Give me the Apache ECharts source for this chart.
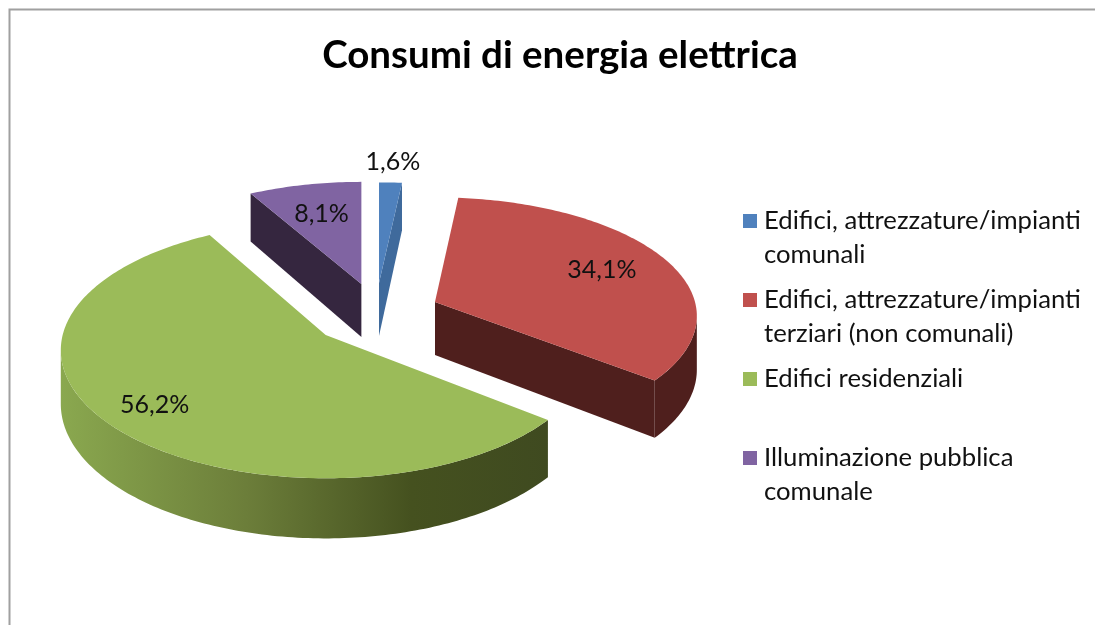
<!DOCTYPE html>
<html>
<head>
<meta charset="utf-8">
<title>Consumi di energia elettrica</title>
<style>
html, body { margin: 0; padding: 0; background: #fff; }
#chart { width: 1095px; height: 625px; }
</style>
<script src="https://cdn.jsdelivr.net/npm/echarts@6/dist/echarts.min.js"></script>
</head>
<body>
<div id="chart"></div>
<script>
// dati
var titleText = "Consumi di energia elettrica";
var names = [
    "Edifici, attrezzature/impianti comunali",
    "Edifici, attrezzature/impianti terziari (non comunali)",
    "Edifici residenziali",
    "Illuminazione pubblica comunale"
];
var legendLines = [
    ["Edifici, attrezzature/impianti", "comunali"],
    ["Edifici, attrezzature/impianti", "terziari (non comunali)"],
    ["Edifici residenziali", " "],
    ["Illuminazione pubblica", "comunale"]
];
var values = [1.6, 34.1, 56.2, 8.1];

// colori
var topColors = ["#4f81bd", "#c0504d", "#9bbb59", "#8064a2"];
var sideColors = ["#3f6a9c", "#4f1f1d", null, "#35263f"];

// torta 3d: ellisse in prospettiva, ogni fetta esplosa lungo la bisettrice
var pieX = 376, pieY = 312;
var persp = 0.119, depth = 53;
var radius = [256, 260, 263, 251];
var tilt = [0.44, 0.45, 0.48, 0.455];
var explodeX = [60, 64, 66, 58];
var explodeY = [29, 26, 35.5, 29];
var labelFrac = [1.23, 0.72, 0.8, 0.68];
var font = "Lato, 'Noto Sans', sans-serif";

var total = values.reduce(function (a, b) { return a + b; }, 0);
var starts = [];
var acc = 0;
for (var i = 0; i < values.length; i++) {
    starts.push(acc / total * Math.PI * 2);
    acc += values[i];
}

function project(idx, apex, ang, frac) {
    var s = 1 / (1 + persp * frac * Math.cos(ang));
    return {
        x: apex.x + radius[idx] * frac * Math.sin(ang) * s,
        y: apex.y - radius[idx] * frac * tilt[idx] * Math.cos(ang) * s,
        s: s
    };
}

function sweep(idx, a0, a1, apex) {
    var pts = [];
    var n = Math.max(2, Math.ceil((a1 - a0) / (Math.PI / 180)));
    for (var k = 0; k <= n; k++) {
        pts.push(project(idx, apex, a0 + (a1 - a0) * k / n, 1));
    }
    return pts;
}

function xy(p, d) {
    return [p.x, p.y + (d ? depth * p.s : 0)];
}

function sideFace(p0, p1, fill) {
    return {
        type: "polygon",
        shape: { points: [xy(p0), xy(p1), xy(p1, true), xy(p0, true)] },
        style: { fill: fill }
    };
}

function makeRender(idx) {
    return function (params, api) {
        var val = api.value(0);
        var a0 = starts[idx];
        var a1 = a0 + val / total * Math.PI * 2;
        var mid = (a0 + a1) / 2;
        var apex = {
            x: pieX + explodeX[idx] * Math.sin(mid),
            y: pieY - explodeY[idx] * Math.cos(mid),
            s: 1
        };
        var children = [];
        var side = sideColors[idx];

        // bordo esterno, solo la parte verso chi guarda
        var silhouette = Math.acos(-persp);
        var ra = Math.max(a0, silhouette);
        var rb = Math.min(a1, Math.PI * 2 - silhouette);
        if (rb > ra) {
            var rim = sweep(idx, ra, rb, apex);
            var pts = rim.map(function (p) { return xy(p); });
            rim.slice().reverse().forEach(function (p) { pts.push(xy(p, true)); });
            var fill = side || new echarts.graphic.LinearGradient(1, 0, 0, 0, [
                { offset: 0, color: "#3f4a20" },
                { offset: 0.28, color: "#45511f" },
                { offset: 0.62, color: "#6c7e3a" },
                { offset: 1, color: "#8aa84f" }
            ]);
            children.push({ type: "polygon", shape: { points: pts }, style: { fill: fill } });
        }
        // facce di taglio visibili
        if (Math.sin(a0) < -0.001) {
            children.push(sideFace(apex, project(idx, apex, a0, 1), side));
        }
        if (Math.sin(a1) > 0.001) {
            children.push(sideFace(apex, project(idx, apex, a1, 1), side));
        }
        // faccia superiore
        var top = [[apex.x, apex.y]].concat(sweep(idx, a0, a1, apex).map(function (p) { return xy(p); }));
        children.push({ type: "polygon", shape: { points: top }, style: { fill: topColors[idx] } });
        // etichetta
        var lp = project(idx, apex, mid, labelFrac[idx]);
        children.push({
            type: "text",
            x: lp.x,
            y: lp.y,
            style: {
                text: val.toFixed(1).replace(".", ",") + "%",
                fill: "#111",
                font: "25px " + font,
                align: "center",
                verticalAlign: "middle"
            }
        });
        return { type: "group", children: children };
    };
}

var chart = echarts.init(document.getElementById("chart"));

var seriesList = [];
for (var j = 0; j < values.length; j++) {
    seriesList.push({
        type: "custom",
        name: names[j],
        coordinateSystem: "none",
        silent: true,
        itemStyle: { color: topColors[j] },
        data: [[values[j]]],
        renderItem: makeRender(j)
    });
}

var option = {
    animation: false,
    backgroundColor: "#fff",
    title: {
        text: titleText,
        left: 555,
        top: 31,
        textAlign: "center",
        textStyle: { color: "#000", fontFamily: font, fontSize: 38.5, fontWeight: "bold" }
    },
    legend: {
        orient: "vertical",
        left: 738,
        top: 165,
        itemWidth: 14,
        itemHeight: 14,
        itemGap: -23,
        icon: "rect",
        selectedMode: false,
        data: names,
        // riga vuota sopra: il simbolo resta allineato alla prima riga
        formatter: function (name) {
            var l = legendLines[names.indexOf(name)];
            return " \n" + l[0] + "\n" + l[1];
        },
        textStyle: { color: "#111", fontFamily: font, fontSize: 25.7, lineHeight: 34, padding: [0, 0, 0, 2] }
    },
    graphic: [{
        type: "polyline",
        silent: true,
        shape: { points: [[9.5, 625], [9.5, 9.5], [1095, 9.5]] },
        style: { stroke: "#a0a0a0", lineWidth: 2, fill: null }
    }],
    series: seriesList
};

chart.setOption(option);
</script>
</body>
</html>
